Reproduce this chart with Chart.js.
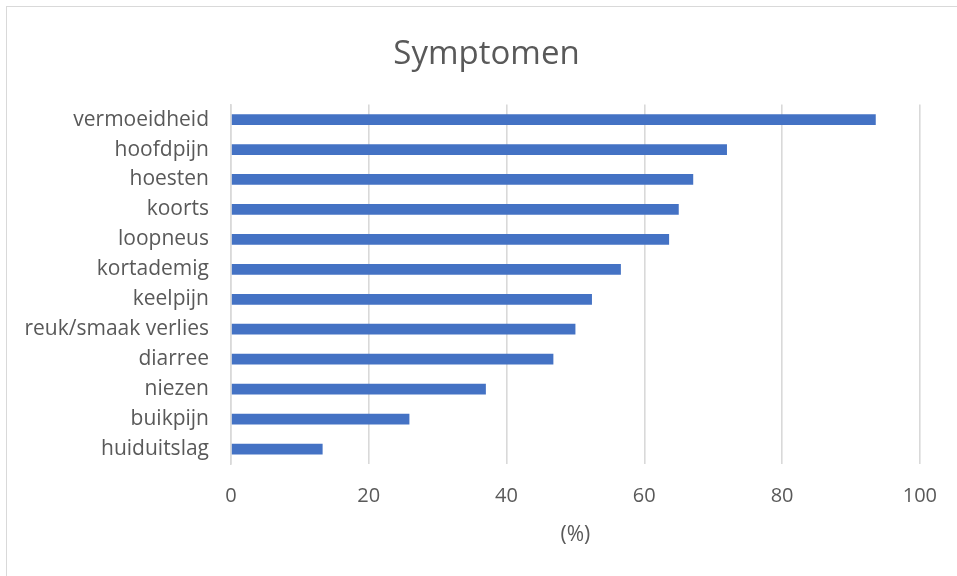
<!DOCTYPE html>
<html>
<head>
<meta charset="utf-8">
<script src="https://cdn.jsdelivr.net/npm/chart.js@4.4.1/dist/chart.umd.min.js"></script>
<style>
  html, body { margin: 0; padding: 0; background: #fff; overflow: hidden; }
  #wrap { position: relative; width: 957px; height: 576px; overflow: hidden; }
  #frame { position: absolute; left: 6px; top: 6px; width: 960px; height: 580px;
           border: 1px solid #d9d9d9; box-sizing: border-box; }
  canvas { position: absolute; left: 0; top: 0; }
</style>
</head>
<body>
<div id="wrap">
  <div id="frame"></div>
  <canvas id="chart" width="957" height="576"></canvas>
</div>
<script>
const categories = [
  'vermoeidheid', 'hoofdpijn', 'hoesten', 'koorts', 'loopneus', 'kortademig',
  'keelpijn', 'reuk/smaak verlies', 'diarree', 'niezen', 'buikpijn', 'huiduitslag'
];
const percentages = [93.6, 72.0, 67.1, 65.0, 63.6, 56.6, 52.4, 50.0, 46.8, 37.0, 25.9, 13.3];
const xTicks = [0, 20, 40, 60, 80, 100];

const textColor = '#595959';
const fontFamily = '"Open Sans", sans-serif';

// left padding moves the title centre right, like in the reference
const padLeft = 50;

const ctx = document.getElementById('chart').getContext('2d');
new Chart(ctx, {
  type: 'bar',
  data: {
    labels: categories,
    datasets: [{
      data: percentages,
      backgroundColor: '#4472c4',
      borderWidth: 0,
      barPercentage: 0.36,
      categoryPercentage: 1
    }]
  },
  options: {
    indexAxis: 'y',
    responsive: false,
    animation: false,
    layout: { padding: { left: padLeft, right: 34, top: 0, bottom: 0 } },
    plugins: {
      legend: { display: false },
      tooltip: { enabled: false },
      title: {
        display: true,
        text: 'Symptomen',
        color: textColor,
        font: { family: fontFamily, size: 33, weight: 'normal', lineHeight: 1.2 },
        padding: { top: 35, bottom: 30 }
      }
    },
    scales: {
      x: {
        min: 0,
        max: 100,
        afterBuildTicks: scale => { scale.ticks = xTicks.map(v => ({ value: v })); },
        afterFit: scale => { scale.height = 576 - 464; },
        grid: { color: '#d9d9d9', lineWidth: 1.6, drawTicks: false },
        border: { display: false },
        ticks: {
          color: textColor,
          padding: 20,
          font: { family: fontFamily, size: 20 }
        },
        title: {
          display: true,
          text: '(%)',
          color: textColor,
          font: { family: fontFamily, size: 21, lineHeight: 1.2 },
          padding: { top: 0, bottom: 28 }
        }
      },
      y: {
        afterFit: scale => { scale.width = 231 - padLeft; },
        grid: { display: false, drawTicks: false },
        border: { display: true, color: '#d9d9d9', width: 1.6 },
        ticks: {
          color: textColor,
          padding: 22,
          font: { family: fontFamily, size: 21 }
        }
      }
    }
  },
  plugins: [{
    // widen the y label clip box so long labels are not cut by the padding
    id: 'labelRoom',
    afterLayout(chart) {
      chart.scales.y.left = 0;
    }
  }]
});
</script>
</body>
</html>
